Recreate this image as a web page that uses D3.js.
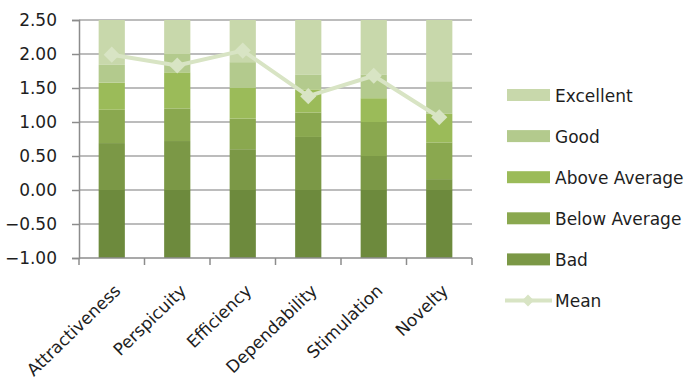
<!DOCTYPE html>
<html><head><meta charset="utf-8">
<script src="https://cdn.jsdelivr.net/npm/d3@7"></script>
<style>body{margin:0;background:#fff}svg{display:block}text{font-family:"DejaVu Sans",sans-serif;fill:#1e1e1e}</style>
</head><body><svg id="c" width="694" height="381"></svg>
<script>
const categories = ["Attractiveness","Perspicuity","Efficiency","Dependability","Stimulation","Novelty"];
const base = [-1,-1,-1,-1,-1,-1];
const bad = [0.69,0.72,0.60,0.78,0.50,0.16];
const belowAverage = [0.49,0.48,0.45,0.36,0.50,0.54];
const aboveAverage = [0.40,0.53,0.45,0.34,0.35,0.42];
const good = [0.26,0.27,0.38,0.22,0.35,0.48];
const excellent = [0.66,0.50,0.62,0.80,0.80,0.90];
const mean = [1.99,1.83,2.05,1.38,1.68,1.07];
const yTicks = [-1,-0.5,0,0.5,1,1.5,2,2.5];
const seriesNames = ["Bad","Below Average","Above Average","Good","Excellent"];
const colors = ["#7b9846","#8aa84f","#9bbb59","#b3ca8d","#c8d8ab"];
const baseColor = "#6d8a3d";
const meanColor = "#d8e4c4";

const svg = d3.select("#c");
const y = d3.scaleLinear().domain([-1,2.5]).range([258,20]);
const x = d3.scaleBand().domain(categories).range([79,472]).paddingInner(0.6).paddingOuter(0.3);
const xb = d3.scaleBand().domain(categories).range([79,472]);

// gridlines
svg.append("g").selectAll("line").data(yTicks.filter(v=>v>-1)).join("line")
  .attr("x1",79).attr("x2",472).attr("y1",d=>y(d)).attr("y2",d=>y(d))
  .attr("stroke","#a6a6a6").attr("stroke-width",1.5);

// bars
const bandData = [bad,belowAverage,aboveAverage,good,excellent];
const g = svg.append("g");
categories.forEach((c,i)=>{
  g.append("rect").attr("x",x(c)).attr("width",x.bandwidth())
    .attr("y",y(0)).attr("height",y(base[i])-y(0)).attr("fill",baseColor);
  let acc=0;
  bandData.forEach((s,k)=>{
    const y0=acc, y1=acc+s[i]; acc=y1;
    g.append("rect").attr("x",x(c)).attr("width",x.bandwidth())
      .attr("y",y(Math.min(y1,2.5))).attr("height",y(y0)-y(Math.min(y1,2.5))).attr("fill",colors[k]);
  });
});

// axes
const ya = svg.append("g").attr("transform","translate(79,0)")
  .call(d3.axisLeft(y).tickValues(yTicks).tickFormat(d3.format(".2f")).tickSize(7).tickPadding(15));
ya.select(".domain").attr("stroke","#8c8c8c").attr("stroke-width",1.5);
ya.selectAll(".tick line").attr("stroke","#8c8c8c").attr("stroke-width",1.5);
ya.selectAll("text").attr("font-size",17).style("font-family","'DejaVu Sans',sans-serif").attr("fill","#1e1e1e");

const xa = svg.append("g").attr("transform","translate(0,258)");
xa.append("line").attr("x1",79).attr("x2",472).attr("stroke","#8c8c8c").attr("stroke-width",1.5);
const bounds = categories.map(c=>xb(c)).concat([xb.range()[1]]);
xa.selectAll(".t").data(bounds).join("line").attr("x1",d=>d).attr("x2",d=>d).attr("y1",0).attr("y2",7)
  .attr("stroke","#8c8c8c").attr("stroke-width",1.5);
xa.selectAll("text").data(categories).join("text")
  .attr("transform",d=>`translate(${xb(d)+xb.bandwidth()/2+10},${34}) rotate(-44)`)
  .attr("text-anchor","end").attr("font-size",17).text(d=>d);

// mean line
const line = d3.line().x((d,i)=>xb(categories[i])+xb.bandwidth()/2).y(d=>y(d));
svg.append("path").datum(mean).attr("d",line).attr("fill","none").attr("stroke",meanColor).attr("stroke-width",4);
svg.append("g").selectAll("path").data(mean).join("path")
  .attr("transform",(d,i)=>`translate(${xb(categories[i])+xb.bandwidth()/2},${y(d)}) rotate(45)`)
  .attr("d",d3.symbol().type(d3.symbolSquare).size(130)).attr("fill",meanColor);

// legend
const legendNames = ["Excellent","Good","Above Average","Below Average","Bad"];
const legendColors = [colors[4],colors[3],colors[2],colors[1],colors[0]];
const lg = svg.append("g");
legendNames.forEach((n,i)=>{
  const cy = 95 + i*41.1;
  lg.append("rect").attr("x",507).attr("y",cy-6).attr("width",43).attr("height",12).attr("fill",legendColors[i]);
  lg.append("text").attr("x",555).attr("y",cy+6.5).attr("font-size",17).text(n);
});
const my = 95 + 5*41.1;
lg.append("line").attr("x1",505).attr("x2",552).attr("y1",my).attr("y2",my).attr("stroke",meanColor).attr("stroke-width",4);
lg.append("path").attr("transform",`translate(528,${my}) rotate(45)`).attr("d",d3.symbol().type(d3.symbolSquare).size(70)).attr("fill",meanColor);
lg.append("text").attr("x",555).attr("y",my+6.5).attr("font-size",17).text("Mean");
</script></body></html>
